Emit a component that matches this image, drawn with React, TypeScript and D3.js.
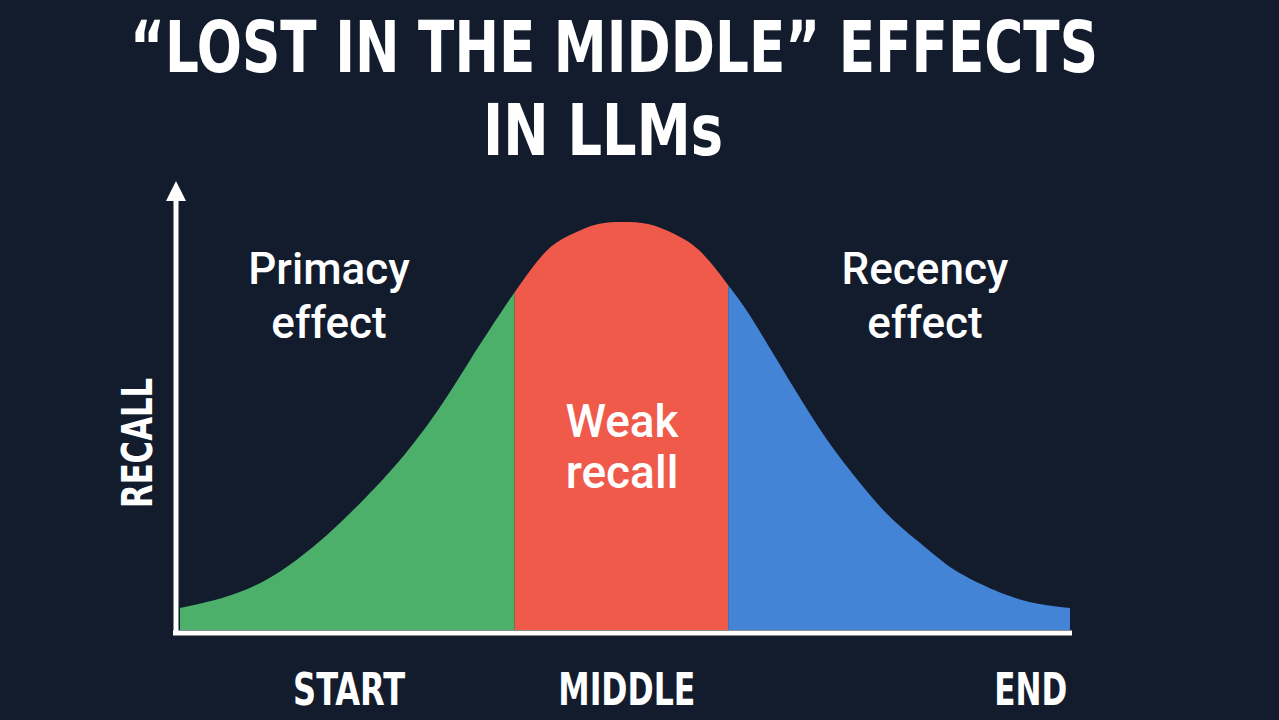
import React from "react";
import * as d3 from "d3";

// ---- data ----
const positions = [0, 3.7, 7.5, 11.2, 14.9, 18, 21, 24.7, 28.9, 32.6, 36.3, 38, 41, 44, 47, 49.8, 52.6, 55.6, 58.6, 61.6, 63.3, 65.2, 68.9, 72.7, 76.4, 80.1, 83.9, 87.6, 92.9, 96.6, 100];
const recall = [5.4, 7.2, 10, 14.3, 20.3, 26.3, 32.8, 41.6, 53.6, 66.2, 78.6, 84, 92.5, 97, 99.5, 100, 99.5, 97, 92.5, 84.5, 79.5, 73, 59.6, 46.6, 36, 27, 20, 14, 8.6, 6.4, 5.4];
const segmentNames = ["Primacy effect", "Weak recall", "Recency effect"];
const segmentStarts = [0, 37.6, 61.6];
const segmentEnds = [37.6, 61.6, 100];
const tickLabels = ["START", "MIDDLE", "END"];
const tickPositions = [19, 50.2, 95.6];
const titleLines = ["\u201CLOST IN THE MIDDLE\u201D EFFECTS", "IN LLMs"];
const yAxisLabel = "RECALL";

// ---- styles ----
const W = 1279;
const H = 720;
const BG = "#131c2d";
const COLORS = ["#4caf6a", "#ef5a4b", "#4384d6"];
const CONDENSED = "'Liberation Sans Narrow', 'DejaVu Sans Condensed', 'Roboto Condensed', sans-serif";
const LABEL_FONT = "Roboto, 'Noto Sans', sans-serif";
const TICK_WIDTHS = [112, 137, 73];

export default function App() {
  const x = d3.scaleLinear().domain([0, 100]).range([180, 1070]);
  const y = d3.scaleLinear().domain([0, 100]).range([630, 222]);
  const pts = positions.map((p, i) => [p, recall[i]] as [number, number]);
  const area = d3
    .area<[number, number]>()
    .x((d) => x(d[0]))
    .y0(y(0))
    .y1((d) => y(d[1]))
    .curve(d3.curveNatural);
  const areaPath = area(pts) || "";

  const labelPos = [
    { cx: 329, y1: 284, y2: 338, size: 44 },
    { cx: 622, y1: 437, y2: 488, size: 46 },
    { cx: 925, y1: 284, y2: 338, size: 44 },
  ];

  return (
    <div style={{ position: "fixed", left: 0, top: 0, width: W, height: H, background: BG }}>
      <svg width={W} height={H} style={{ display: "block" }}>
        <rect x={0} y={0} width={W} height={H} fill={BG} />
        <defs>
          {segmentStarts.map((s, i) => (
            <clipPath id={`seg${i}`} key={i}>
              <rect x={x(s)} y={0} width={x(segmentEnds[i]) - x(s)} height={H} />
            </clipPath>
          ))}
        </defs>
        {segmentStarts.map((s, i) => (
          <path key={i} d={areaPath} fill={COLORS[i]} clipPath={`url(#seg${i})`} />
        ))}

        {/* axes */}
        <line x1={176} y1={633} x2={176} y2={196} stroke="#ffffff" strokeWidth={5} />
        <path d="M176,181 L166,201 L186,201 Z" fill="#ffffff" />
        <line x1={173} y1={633} x2={1072} y2={633} stroke="#ffffff" strokeWidth={5} />

        {/* title */}
        <g transform="translate(614,72) scale(1,1.2)">
          <text x={0} y={0} fill="#ffffff" fontFamily={CONDENSED} fontWeight={700} fontSize={60}
            textAnchor="middle" textLength={968} lengthAdjust="spacingAndGlyphs">{titleLines[0]}</text>
        </g>
        <g transform="translate(603,155) scale(1,1.2)">
          <text x={0} y={0} fill="#ffffff" fontFamily={CONDENSED} fontWeight={700} fontSize={60}
            textAnchor="middle" textLength={240} lengthAdjust="spacingAndGlyphs">{titleLines[1]}</text>
        </g>

        {/* segment labels */}
        {segmentNames.map((name, i) => {
          const words = name.split(" ");
          const lp = labelPos[i];
          return (
            <g key={i} fill="#ffffff" fontFamily={LABEL_FONT} fontWeight={500} fontSize={lp.size} textAnchor="middle">
              <text x={lp.cx} y={lp.y1}>{words[0]}</text>
              <text x={lp.cx} y={lp.y2}>{words[1]}</text>
            </g>
          );
        })}

        {/* y label */}
        <text transform="translate(152,443) rotate(-90)" fill="#ffffff" fontFamily={CONDENSED}
          fontWeight={700} fontSize={42} textAnchor="middle" textLength={130} lengthAdjust="spacingAndGlyphs">
          {yAxisLabel}
        </text>

        {/* x tick labels */}
        {tickLabels.map((t, i) => (
          <text key={t} x={x(tickPositions[i])} y={705} fill="#ffffff" fontFamily={CONDENSED}
            fontWeight={700} fontSize={45} textAnchor="middle" textLength={TICK_WIDTHS[i]}
            lengthAdjust="spacingAndGlyphs">{t}</text>
        ))}
      </svg>
    </div>
  );
}
